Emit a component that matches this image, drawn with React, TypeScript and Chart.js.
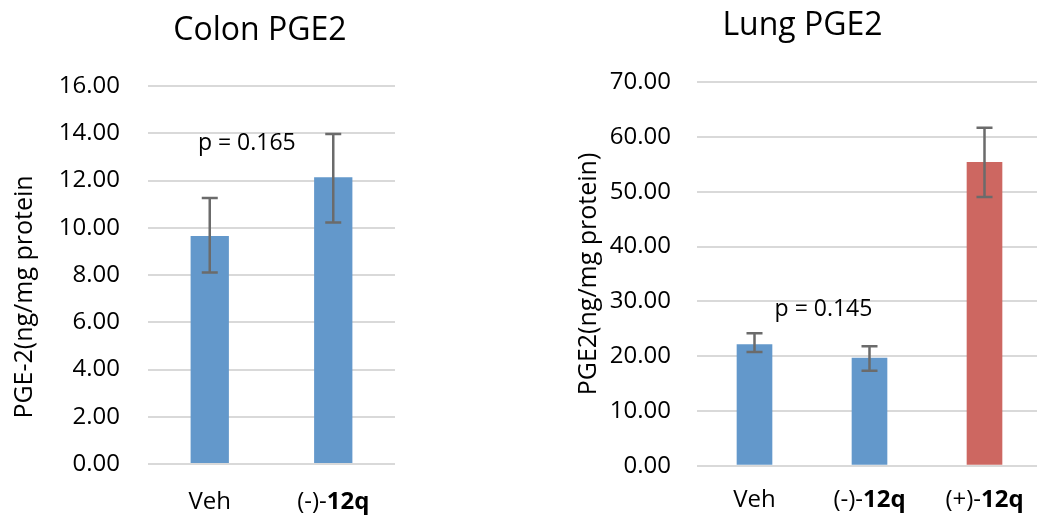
import React, { useEffect, useRef } from "react";
import { Chart, registerables } from "chart.js";
Chart.register(...registerables);

const FONT = "'Open Sans', sans-serif";
const BLUE = "#6398CB";
const RED = "#CD6761";
const ERR_COLOR = "#6b6b6b";
const GRID_COLOR = "#d9d9d9";

// ---- Colon data ----
const colonTitle = "Colon PGE2";
const colonYTitle = "PGE-2(ng/mg protein";
const colonLabelPlain = ["Veh", "(-)-"];
const colonLabelBold = ["", "12q"];
const colonValues = [9.65, 12.14];
const colonErrLow = [8.11, 10.22];
const colonErrHigh = [11.26, 13.97];
const colonColors = [BLUE, BLUE];
const colonYMax = 16;
const colonYStep = 2;
const colonPText = "p = 0.165";
const colonPCat = 0.3;
const colonPVal = 13.28;

// ---- Lung data ----
const lungTitle = "Lung PGE2";
const lungYTitle = "PGE2(ng/mg protein)";
const lungLabelPlain = ["Veh", "(-)-", "(+)-"];
const lungLabelBold = ["", "12q", "12q"];
const lungValues = [22.17, 19.72, 55.45];
const lungErrLow = [20.76, 17.35, 49.06];
const lungErrHigh = [24.17, 21.8, 61.7];
const lungColors = [BLUE, BLUE, RED];
const lungYMax = 70;
const lungYStep = 10;
const lungPText = "p = 0.145";
const lungPCat = 0.6;
const lungPVal = 27.33;

type Spec = {
  left: number;
  width: number;
  padTop: number;
  padRight: number;
  yWidth: number;
  xHeight: number;
  tickPad: number;
  title: string;
  titleX: number;
  titleY: number;
  yTitle: string;
  yTitleX: number;
  yTitleY: number;
  labelBaseline: number;
  plain: string[];
  bold: string[];
  values: number[];
  low: number[];
  high: number[];
  colors: string[];
  yMax: number;
  yStep: number;
  pText: string;
  pCat: number;
  pVal: number;
};

const specs: Spec[] = [
  {
    left: 0, width: 520, padTop: 86, padRight: 125, yWidth: 148, xHeight: 54, tickPad: 28,
    title: colonTitle, titleX: 260, titleY: 40,
    yTitle: colonYTitle, yTitleX: 25, yTitleY: 297,
    labelBaseline: 509,
    plain: colonLabelPlain, bold: colonLabelBold,
    values: colonValues, low: colonErrLow, high: colonErrHigh, colors: colonColors,
    yMax: colonYMax, yStep: colonYStep,
    pText: colonPText, pCat: colonPCat, pVal: colonPVal,
  },
  {
    left: 560, width: 482, padTop: 82.3, padRight: 0, yWidth: 137, xHeight: 52.3, tickPad: 26,
    title: lungTitle, titleX: 242.5, titleY: 35,
    yTitle: lungYTitle, yTitleX: 28.5, yTitleY: 274,
    labelBaseline: 507,
    plain: lungLabelPlain, bold: lungLabelBold,
    values: lungValues, low: lungErrLow, high: lungErrHigh, colors: lungColors,
    yMax: lungYMax, yStep: lungYStep,
    pText: lungPText, pCat: lungPCat, pVal: lungPVal,
  },
];

function overlayPlugin(s: Spec) {
  return {
    id: "overlay",
    afterDatasetsDraw(chart: any) {
      const ctx = chart.ctx;
      const x = chart.scales.x;
      const y = chart.scales.y;
      ctx.save();
      ctx.strokeStyle = ERR_COLOR;
      ctx.lineWidth = 2.5;
      s.values.forEach((_, i) => {
        const cx = x.getPixelForValue(i);
        const yl = y.getPixelForValue(s.low[i]);
        const yh = y.getPixelForValue(s.high[i]);
        ctx.beginPath();
        ctx.moveTo(cx, yl);
        ctx.lineTo(cx, yh);
        ctx.moveTo(cx - 8, yl);
        ctx.lineTo(cx + 8, yl);
        ctx.moveTo(cx - 8, yh);
        ctx.lineTo(cx + 8, yh);
        ctx.stroke();
      });
      ctx.restore();
    },
    afterDraw(chart: any) {
      const ctx = chart.ctx;
      const x = chart.scales.x;
      const y = chart.scales.y;
      ctx.save();
      ctx.fillStyle = "#000";
      ctx.textBaseline = "alphabetic";
      ctx.textAlign = "center";
      ctx.font = `32px ${FONT}`;
      ctx.fillText(s.title, s.titleX, s.titleY);
      ctx.font = `23px ${FONT}`;
      ctx.fillText(s.pText, x.getPixelForValue(s.pCat), y.getPixelForValue(s.pVal));
      // x labels with bold part
      ctx.textAlign = "left";
      s.plain.forEach((p, i) => {
        const b = s.bold[i];
        ctx.font = `24px ${FONT}`;
        const wp = ctx.measureText(p).width;
        ctx.font = `bold 24px ${FONT}`;
        const wb = b ? ctx.measureText(b).width : 0;
        const start = x.getPixelForValue(i) - (wp + wb) / 2;
        ctx.font = `24px ${FONT}`;
        ctx.fillText(p, start, s.labelBaseline);
        if (b) {
          ctx.font = `bold 24px ${FONT}`;
          ctx.fillText(b, start + wp, s.labelBaseline);
        }
      });
      // y title
      ctx.translate(s.yTitleX, s.yTitleY);
      ctx.rotate(-Math.PI / 2);
      ctx.textAlign = "center";
      ctx.textBaseline = "middle";
      ctx.font = `25px ${FONT}`;
      ctx.fillText(s.yTitle, 0, 0);
      ctx.restore();
    },
  };
}

function ChartCanvas({ s }: { s: Spec }) {
  const ref = useRef<HTMLCanvasElement | null>(null);
  useEffect(() => {
    if (!ref.current) return;
    const chart = new Chart(ref.current, {
      type: "bar",
      data: {
        labels: s.plain.map((p, i) => p + s.bold[i]),
        datasets: [
          {
            data: s.values,
            backgroundColor: s.colors,
            borderWidth: 0,
            barPercentage: 1,
            categoryPercentage: 0.31,
          },
        ],
      },
      options: {
        responsive: false,
        animation: false,
        devicePixelRatio: 1,
        layout: { padding: { top: s.padTop, right: s.padRight, left: 0, bottom: 0 } },
        plugins: { legend: { display: false }, title: { display: false }, tooltip: { enabled: false } },
        scales: {
          x: {
            grid: { display: false },
            border: { display: false },
            ticks: { display: false },
            afterFit: (sc: any) => {
              sc.height = s.xHeight;
            },
          },
          y: {
            min: 0,
            max: s.yMax,
            grid: { color: GRID_COLOR, lineWidth: 2, drawTicks: false },
            border: { display: false },
            ticks: {
              stepSize: s.yStep,
              padding: s.tickPad,
              color: "#000",
              font: { family: FONT, size: 24 },
              callback: (v: any) => Number(v).toFixed(2),
            },
            afterFit: (sc: any) => {
              sc.width = s.yWidth;
            },
          },
        },
      },
      plugins: [overlayPlugin(s)],
    } as any);
    return () => chart.destroy();
  }, [s]);
  return (
    <canvas
      ref={ref}
      width={s.width}
      height={518}
      style={{ position: "absolute", left: s.left, top: 0, width: s.width, height: 518 }}
    />
  );
}

export default function App() {
  return (
    <div
      style={{
        position: "fixed",
        left: 0,
        top: 0,
        width: 1037,
        height: 518,
        overflow: "hidden",
        background: "#fff",
      }}
    >
      {specs.map((s, i) => (
        <ChartCanvas key={i} s={s} />
      ))}
    </div>
  );
}
